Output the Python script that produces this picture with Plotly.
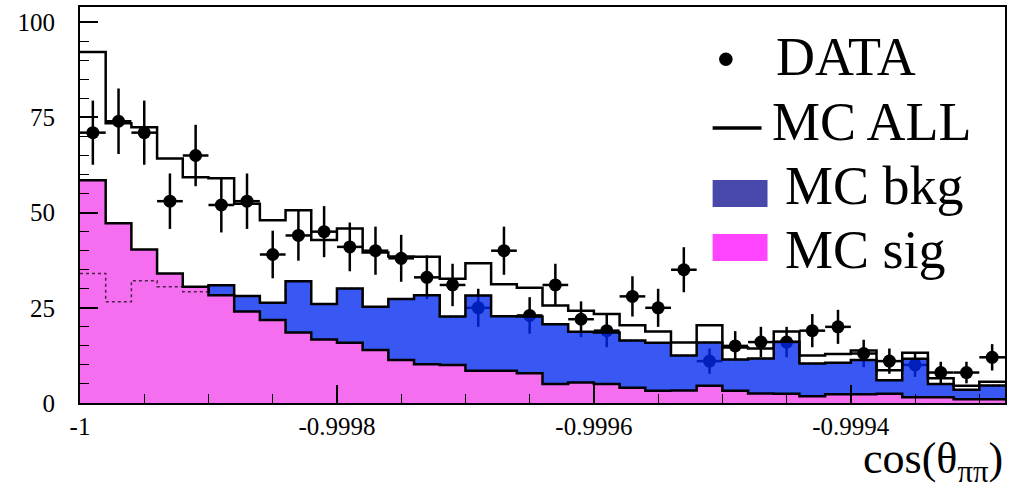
import numpy as np
import plotly.graph_objects as go

# ---- histogram definition ----
x_min = -1.0
bin_width = 2e-5

# ---- values ----
data_counts = [71, 74, 71, 53, 65, 52, 53, 39, 44, 45, 41, 40, 38, 33, 31, 25, 40, 23,
               31, 22, 19, 28, 25, 35, 11, 15, 16, 16, 19, 20, 13, 11, 10, 8, 8, 12]
mc_all = [92.2, 73.5, 72.4, 64.2, 59.3, 59.0, 52.3, 48.0, 50.6, 42.8, 45.8, 39.5,
          38.5, 38.4, 32.6, 36.7, 31.2, 30.3, 25.6, 24.2, 23.4, 20.4, 18.8, 15.9,
          20.4, 14.6, 14.3, 18.8, 12.5, 12.9, 13.8, 8.6, 13.2, 6.5, 4.5, 5.6]
mc_bkg = [34.0, 26.6, 32.1, 30.5, 29.2, 30.9, 28.1, 26.3, 32.0, 26.0, 30.1, 25.3,
          27.3, 28.3, 22.7, 28.2, 22.8, 22.7, 20.7, 18.7, 18.5, 16.4, 15.8, 12.5,
          15.9, 11.4, 11.7, 16.1, 10.4, 10.6, 11.3, 6.0, 11.6, 5.0, 3.5, 4.6]
mc_sig = [58.5, 47.2, 40.3, 34.0, 30.5, 28.3, 24.0, 21.8, 18.5, 16.7, 15.8, 13.9,
          11.3, 10.2, 10.0, 8.5, 8.5, 7.8, 5.0, 5.4, 5.0, 4.0, 3.2, 3.3,
          4.5, 3.2, 2.5, 2.4, 1.8, 2.3, 2.3, 2.4, 1.5, 1.5, 1.0, 1.0]

x_tickvals = [-1.0, -0.9998, -0.9996, -0.9994]
x_ticktext = ["-1", "-0.9998", "-0.9996", "-0.9994"]
y_tickvals = [0, 25, 50, 75, 100]
y_ticktext = ["0", "25", "50", "75", "100"]

legend_labels = ["DATA", "MC ALL", "MC bkg", "MC sig"]
x_title = "cos(θ<sub>ππ</sub>)"

# ---- derived bin geometry ----
n_bins = len(data_counts)
edges = x_min + bin_width * np.arange(n_bins + 1)
centers = edges[:-1] + bin_width / 2


def step(vals):
    return list(vals) + [vals[-1]]


SERIF = "Liberation Serif"
fig = go.Figure()

# data (drawn first so that the hatched fills tint points lying inside them)
fig.add_trace(go.Scatter(
    x=centers, y=data_counts, mode="markers",
    marker=dict(color="black", size=13),
    error_x=dict(type="constant", value=bin_width / 2, thickness=2.5, width=0, color="black"),
    error_y=dict(type="data", array=np.sqrt(data_counts), thickness=2.5, width=0, color="black"),
    hoverinfo="skip"))

# MC background
fig.add_trace(go.Scatter(
    x=edges, y=step(mc_bkg), mode="lines", line_shape="hv",
    fill="tozeroy", fillcolor="rgba(0,40,240,0.78)",
    line=dict(color="black", width=2.5), hoverinfo="skip"))

# MC signal
fig.add_trace(go.Scatter(
    x=edges, y=step(mc_sig), mode="lines", line_shape="hv",
    fill="tozeroy", fillcolor="rgb(245,110,240)",
    line=dict(color="black", width=2.5), hoverinfo="skip"))

# background outline seen through the signal fill
fig.add_trace(go.Scatter(
    x=edges, y=step(mc_bkg), mode="lines", line_shape="hv",
    line=dict(color="rgba(0,0,0,0.7)", width=1.5, dash="dot"), hoverinfo="skip"))

# MC all
fig.add_trace(go.Scatter(
    x=edges, y=step(mc_all), mode="lines", line_shape="hv",
    line=dict(color="black", width=2.5), hoverinfo="skip"))

# ---- layout geometry (pixels) ----
W, H = 1012, 489
L, R, T, B = 80, 5, 7, 86
pw, ph = W - L - R, H - T - B


def px(xp):
    return (xp - L) / pw


def py(yp):
    return (H - B - yp) / ph


shapes = [
    dict(type="circle", xref="paper", yref="paper", x0=px(720.5), x1=px(734), y0=py(66), y1=py(52.5),
         fillcolor="black", line=dict(width=0)),
    dict(type="line", xref="paper", yref="paper", x0=px(714), x1=px(763), y0=py(128), y1=py(128),
         line=dict(color="black", width=3.5)),
    dict(type="rect", xref="paper", yref="paper", x0=px(714), x1=px(769), y0=py(207), y1=py(180),
         fillcolor="#4849aa", line=dict(width=0)),
    dict(type="rect", xref="paper", yref="paper", x0=px(714), x1=px(769), y0=py(261), y1=py(234),
         fillcolor="#ff44ff", line=dict(width=0)),
]

legend_pos = [(776, 57), (771, 122), (785, 186), (785, 250)]
annotations = []
for lab, (lx, ly) in zip(legend_labels, legend_pos):
    annotations.append(dict(text=lab, xref="paper", yref="paper", x=px(lx), y=py(ly),
                            xanchor="left", yanchor="middle", showarrow=False,
                            font=dict(family=SERIF, size=54, color="black")))
annotations.append(dict(text=x_title, xref="paper", yref="paper", x=px(1007), y=py(461),
                        xanchor="right", yanchor="middle", showarrow=False,
                        font=dict(family=SERIF, size=44, color="black")))

fig.update_layout(
    width=W, height=H,
    margin=dict(l=L, r=R, t=T, b=B),
    paper_bgcolor="white", plot_bgcolor="white",
    font=dict(family=SERIF, color="black"),
    showlegend=False,
    shapes=shapes, annotations=annotations,
    xaxis=dict(range=[edges[0], edges[-1]], tickvals=x_tickvals, ticktext=x_ticktext,
               ticks="inside", ticklen=18, tickwidth=1.5, tickcolor="black",
               minor=dict(dtick=5e-5, tick0=x_min, ticks="inside", ticklen=9,
                          tickwidth=1, tickcolor="black"),
               showgrid=False, zeroline=False, showline=True, mirror=True,
               linecolor="black", linewidth=2, ticklabelstandoff=0,
               tickfont=dict(family=SERIF, size=25, color="black")),
    yaxis=dict(range=[0, 104], tickvals=y_tickvals, ticktext=y_ticktext,
               ticks="inside", ticklen=18, tickwidth=1.5, tickcolor="black",
               minor=dict(dtick=5, tick0=0, ticks="inside", ticklen=9,
                          tickwidth=1, tickcolor="black"),
               showgrid=False, zeroline=False, showline=True, mirror=True,
               linecolor="black", linewidth=2, ticklabelstandoff=18,
               tickfont=dict(family=SERIF, size=25, color="black")),
)

fig.write_html("out.html")
